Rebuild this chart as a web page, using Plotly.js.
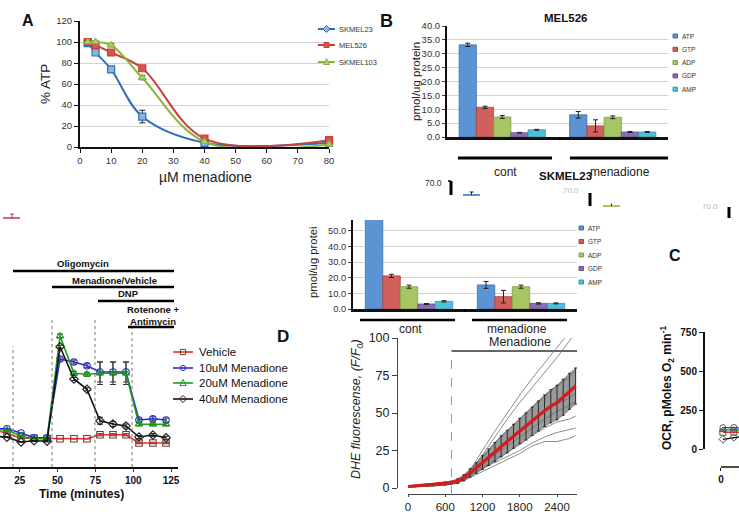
<!DOCTYPE html>
<html><head><meta charset="utf-8">
<script src="https://cdn.plot.ly/plotly-3.0.1.min.js"></script>
<style>html,body{margin:0;padding:0;background:#fff;}#chart{width:739px;height:512px;}</style>
</head><body><div id="chart"></div>
<script>
// ---------- Panel A : % ATP vs menadione ----------
const doseA = [2.5, 5, 10, 20, 40, 80];
const atpSKMEL23 = [99, 90, 74, 29, 4, 4];
const atpMEL526 = [100, 97, 90, 75, 8, 6.5];
const atpSKMEL103 = [100, 100, 97, 66, 5, 2.5];
const errSKMEL23 = [1, 1.5, 1.5, 6, 1, 0.5];
const errMEL526 = [1, 1, 1.5, 1.5, 1, 1];
const errSKMEL103 = [1, 1, 1.5, 2, 1, 0.5];
const cellLinesA = ['SKMEL23', 'MEL526', 'SKMEL103'];

// ---------- Panel B : nucleotides ----------
const nucleotides = ['ATP', 'GTP', 'ADP', 'GDP', 'AMP'];
const groups = ['cont', 'menadione'];
const mel526Cont = [33.2, 10.7, 7.2, 1.55, 2.6];
const mel526Men = [8.0, 4.0, 7.1, 1.8, 1.8];
const mel526ContErr = [0.6, 0.4, 0.5, 0.1, 0.15];
const mel526MenErr = [1.2, 2.2, 0.5, 0.2, 0.15];
const skmel23Cont = [66, 21.2, 14.3, 3.2, 4.9];
const skmel23Men = [15.4, 7.9, 14.3, 3.6, 3.6];
const skmel23ContErr = [1.5, 1.0, 1.0, 0.3, 0.4];
const skmel23MenErr = [2.2, 4.0, 1.0, 0.4, 0.3];

// ---------- Panel D : OCR time course ----------
const timeD = [8, 16.5, 25.8, 34.4, 43, 51.6, 60.8, 69.4, 78, 86.6, 95.2, 103.8, 113, 121.7];
const ocrVehicle = [148, 135, 115, 115, 113, 113, 113, 113, 129, 129, 129, 96, 96, 96];
const ocr10 = [152, 153, 136, 117, 117, 432, 420, 405, 380, 380, 380, 188, 193, 188];
const ocr20 = [150, 148, 124, 113, 113, 524, 375, 371, 375, 375, 375, 171, 171, 171];
const ocr40 = [124, 119, 100, 105, 103, 481, 352, 311, 185, 172, 164, 120, 128, 117];
const errVehicle = [0, 0, 0, 0, 0, 0, 0, 0, 4, 4, 4, 3, 3, 3];
const err10 = [0, 0, 0, 0, 0, 8, 8, 8, 40, 40, 40, 8, 8, 8];
const err20 = [0, 0, 0, 0, 0, 8, 8, 8, 45, 45, 45, 6, 6, 6];
const err40 = [0, 0, 0, 0, 0, 6, 6, 6, 14, 10, 8, 6, 6, 6];
const seriesD = ['Vehicle', '10uM Menadione', '20uM Menadione', '40uM Menadione'];
const injectionTimes = [20.5, 46.3, 74.7, 99.2];
const treatments = ['Oligomycin', 'Menadione/Vehicle', 'DNP', 'Rotenone +<br>Antimycin'];

// ---------- DHE fluorescence ----------
const dheT = [0,100,200,300,400,500,600,700,800,900,1000,1100,1200,1300,1400,1500,1600,1700,1800,1900,2000,2100,2200,2300,2400,2500,2600,2700];
const dheMean = [1.0,1.3,1.6,2.0,2.3,2.7,3.1,3.6,4.6,6.8,10.0,13.3,17.0,20.5,24.0,27.8,31.0,34.5,38.0,41.0,44.5,48.0,51.5,54.5,57.0,60.5,64.5,68.0];
const dheSD = [0.5,0.5,0.6,0.6,0.7,0.8,0.9,1.0,1.5,2.0,2.8,3.5,4.5,5.5,6.3,7.0,7.5,8.0,8.5,9.0,9.5,10.0,10.5,11.0,11.5,12.0,12.0,12.0];
const cellT = [0,300,600,700,800,900,1000,1200,1400,1600,1800,2000,2200,2400,2600,2700];
const cell1 = [1,1.5,2.5,3,4,7,12,25,38,50,62,73,83,93,104,110];
const cell2 = [1,1.5,2.5,3,4.5,7,11,22,34,46,57,67,77,87,98,104];
const cell3 = [1,1.5,2.5,3.2,5,8,11,20,30,38,46,54,61,68,74,78];
const cell4 = [1,1.2,2,3,4.2,7,10,17,25,32,39,45,51,56,60,63];
const cell5 = [1,1.2,2,2.8,4,6.5,9,15,22,28,34,40,46,51,55,58];
const cell6 = [1,1.3,2.2,3,4,6,8.5,14,19,24,29,35,40,44,46,48];
const cell7 = [1,1.2,2,3,4,6,8,13,17,21,25,30,34,37,39,40];
const cell8 = [0.5,1,1.8,2.5,3.5,5,7,11,15,19,23,28,31,31,33,35];
const menadioneStart = 700;

// ---------- Panel C : OCR (cropped) ----------
const timeC = [1.5, 10, 18.6];
const ocrC_Vehicle = [107, 108, 108];
const ocrC_10 = [137, 138, 135];
const ocrC_20 = [122, 125, 122];
const ocrC_40 = [62, 75, 82];

// ================= helpers =================
const W = 739, H = 512;
const X = p => p / W;
const Y = p => 1 - p / H;
const FONT = 'Liberation Sans, Arial, sans-serif';
const f = (size, extra) => Object.assign({family: FONT, size: size, color: '#222'}, extra || {});
function T(text, px, py, size, opts) {
  return Object.assign({text: text, xref: 'paper', yref: 'paper', x: X(px), y: Y(py), showarrow: false,
    xanchor: 'center', yanchor: 'middle', font: f(size)}, opts || {});
}
function L(x0, y0, x1, y1, color, width, dash) {
  return {type: 'line', xref: 'paper', yref: 'paper', x0: X(x0), y0: Y(y0), x1: X(x1), y1: Y(y1),
    line: {color: color, width: width, dash: dash || 'solid'}};
}
function R(x0, y0, x1, y1, fill, lc) {
  return {type: 'rect', xref: 'paper', yref: 'paper', x0: X(x0), y0: Y(y1), x1: X(x1), y1: Y(y0),
    fillcolor: fill, line: {color: lc || fill, width: 1}};
}
function P(pts, fill, lc) {
  const d = pts.map((p, i) => (i ? 'L' : 'M') + X(p[0]) + ',' + Y(p[1])).join(' ') + ' Z';
  return {type: 'path', xref: 'paper', yref: 'paper', path: d, fillcolor: fill, line: {color: lc, width: 1}};
}
function C(cx, cy, r, fill, lc) {
  return {type: 'circle', xref: 'paper', yref: 'paper', x0: X(cx - r), x1: X(cx + r), y0: Y(cy + r), y1: Y(cy - r),
    fillcolor: fill, line: {color: lc, width: 1}};
}
function marker(sym, cx, cy, s, fill, lc) {
  if (sym === 'square') return R(cx - s, cy - s, cx + s, cy + s, fill, lc);
  if (sym === 'circle') return C(cx, cy, s, fill, lc);
  if (sym === 'triangle') return P([[cx, cy - s - 1], [cx + s + 0.5, cy + s], [cx - s - 0.5, cy + s]], fill, lc);
  return P([[cx, cy - s - 1], [cx + s + 1, cy], [cx, cy + s + 1], [cx - s - 1, cy]], fill, lc);
}

const traces = [];
const shapes = [];
const annotations = [];

// ---------- Panel A traces ----------
const colA = ['#2f6fba', '#c8403a', '#8db33a'];
const fillA = ['#8fb4e0', '#d9534f', '#b5d06a'];
const symA = ['square', 'square', 'triangle-up'];
const legSymA = ['diamond', 'square', 'triangle'];
[atpSKMEL23, atpMEL526, atpSKMEL103].forEach((ys, i) => {
  traces.push({x: doseA, y: ys, xaxis: 'x', yaxis: 'y', type: 'scatter', mode: 'lines+markers', name: cellLinesA[i],
    showlegend: false, cliponaxis: false,
    line: {shape: 'spline', smoothing: 1, color: colA[i], width: 2},
    marker: {symbol: symA[i], size: 7, color: fillA[i], line: {color: colA[i], width: 1.2}},
    error_y: {type: 'data', array: [errSKMEL23, errMEL526, errSKMEL103][i], color: '#222', thickness: 1, width: 3}});
  const ly = [29, 45, 62][i];
  shapes.push(L(318, ly, 335, ly, colA[i], 2));
  shapes.push(marker(legSymA[i], 326.5, ly, 2.5, fillA[i], colA[i]));
  annotations.push(T(cellLinesA[i], 337, ly, 7.5, {xanchor: 'left', font: f(7.5, {color: '#333'})}));
});

// ---------- Panel B bars ----------
const barCol = ['#5b93d3', '#d0605b', '#a5c663', '#8b6bb5', '#4fc0d8'];
const barLine = ['#3b6fae', '#a8403c', '#7f9f45', '#6a4e92', '#3296b0'];
nucleotides.forEach((n, i) => {
  traces.push({type: 'bar', x: groups, y: [mel526Cont[i], mel526Men[i]], xaxis: 'x2', yaxis: 'y2', name: n, showlegend: false,
    marker: {color: barCol[i], line: {color: barLine[i], width: 0.8}},
    error_y: {type: 'data', array: [mel526ContErr[i], mel526MenErr[i]], color: '#222', thickness: 1, width: 2.5}});
  traces.push({type: 'bar', x: groups, y: [skmel23Cont[i], skmel23Men[i]], xaxis: 'x3', yaxis: 'y3', name: n, showlegend: false,
    marker: {color: barCol[i], line: {color: barLine[i], width: 0.8}},
    error_y: {type: 'data', array: [skmel23ContErr[i], skmel23MenErr[i]], color: '#222', thickness: 1, width: 2.5}});
  const ly2 = 36 + 13.3 * i;
  shapes.push(R(673, ly2 - 2, 677.5, ly2 + 2, barCol[i], barLine[i]));
  annotations.push(T(n, 680, ly2, 6.5, {xanchor: 'left', font: f(6.5, {color: '#333'})}));
  const ly3 = 228 + 13.5 * i;
  shapes.push(R(579, ly3 - 2, 583.5, ly3 + 2, barCol[i], barLine[i]));
  annotations.push(T(n, 586, ly3, 6.5, {xanchor: 'left', font: f(6.5, {color: '#333'})}));
});

// ---------- Panel D traces ----------
const colD = ['#e8302a', '#2b2bd0', '#1a9e1a', '#111111'];
const mkD = ['#7a3a3a', '#2b2bd0', '#1a9e1a', '#222'];
const symD = ['square-open', 'circle-open', 'triangle-up-open', 'diamond-open'];
const legSymD = ['square', 'circle', 'triangle', 'diamond'];
[ocrVehicle, ocr10, ocr20, ocr40].forEach((ys, i) => {
  traces.push({x: timeD, y: ys, xaxis: 'x4', yaxis: 'y4', type: 'scatter', mode: 'lines+markers', name: seriesD[i],
    showlegend: false, line: {color: colD[i], width: 1.6},
    marker: {symbol: symD[i], size: 6.5, color: mkD[i], line: {width: 1.1}},
    error_y: {type: 'data', array: [errVehicle, err10, err20, err40][i], color: '#333', thickness: 1, width: 3}});
  const ly = [352, 368, 383, 399][i];
  shapes.push(L(173, ly, 193, ly, colD[i], 1.6));
  shapes.push(marker(legSymD[i], 183, ly, 2.6, 'rgba(255,255,255,0)', mkD[i]));
  annotations.push(T(seriesD[i], 197, ly, 11.5, {xanchor: 'left', font: f(11.5, {color: '#111'})}));
});
// injection dotted lines
injectionTimes.forEach((t, i) => {
  shapes.push({type: 'line', xref: 'x4', yref: 'paper', x0: t, x1: t, y0: Y(467), y1: Y(i === 0 ? 346 : 318),
    line: {color: '#777', width: 1, dash: 'dot'}});
});
// treatment bars
const trLines = [[13, 174, 271, 83, 263], [52, 174, 287, 114, 280], [98, 174, 301, 128, 293], [128, 174, 327, 153, 315]];
trLines.forEach((t, i) => {
  shapes.push(L(t[0], t[2], t[1], t[2], '#000', 2.5));
  annotations.push(T('<b>' + treatments[i] + '</b>', t[3], t[4], 9.5, {font: f(9.5, {color: '#111'})}));
});

// ---------- DHE traces ----------
const dheLo = dheMean.map((m, i) => m - dheSD[i]);
const dheHi = dheMean.map((m, i) => m + dheSD[i]);
traces.push({x: dheT, y: dheLo, xaxis: 'x5', yaxis: 'y5', type: 'scatter', mode: 'lines', line: {width: 0.5, color: '#555'}, showlegend: false, hoverinfo: 'skip'});
traces.push({x: dheT, y: dheHi, xaxis: 'x5', yaxis: 'y5', type: 'scatter', mode: 'lines', line: {width: 0.5, color: '#555'}, fill: 'tonexty', fillcolor: '#9a9a9a', showlegend: false, hoverinfo: 'skip'});
[cell1, cell2, cell3, cell4, cell5, cell6, cell7, cell8].forEach((ys) => {
  traces.push({x: cellT, y: ys, xaxis: 'x5', yaxis: 'y5', type: 'scatter', mode: 'lines', line: {width: 0.8, color: '#707070'}, showlegend: false});
});
traces.push({x: dheT, y: dheMean, xaxis: 'x5', yaxis: 'y5', type: 'scatter', mode: 'lines', showlegend: false,
  line: {color: '#d41c1c', width: 3.2},
  error_y: {type: 'data', array: dheSD, color: '#2a2a2a', thickness: 1, width: 1.5}});
shapes.push({type: 'line', xref: 'x5', yref: 'paper', x0: menadioneStart, x1: menadioneStart, y0: Y(495), y1: Y(351), line: {color: '#999', width: 1, dash: 'dash'}});
shapes.push({type: 'line', xref: 'x5', yref: 'paper', x0: menadioneStart, x1: 2722, y0: Y(351), y1: Y(351), line: {color: '#666', width: 2}});

// ---------- Panel C traces ----------
[ocrC_Vehicle, ocrC_10, ocrC_20, ocrC_40].forEach((ys, i) => {
  traces.push({x: timeC, y: ys, xaxis: 'x6', yaxis: 'y6', type: 'scatter', mode: 'lines+markers', showlegend: false,
    line: {color: colD[i], width: 1.4}, marker: {symbol: symD[i], size: 6, color: '#555', line: {width: 1}}});
});
shapes.push(L(721, 467, 739, 467, '#111', 1.5));

// ---------- brackets & fragments ----------
shapes.push(L(458, 158, 552, 158, '#000', 3));
shapes.push(L(570, 158, 668, 158, '#000', 3));
shapes.push(L(560, 137, 560, 140, '#000', 1.5));
shapes.push(L(360, 320, 455, 320, '#000', 2.5));
shapes.push(L(472, 320, 567, 320, '#000', 2.5));
shapes.push(L(465, 309, 465, 312, '#000', 1.5));
// cropped copies
shapes.push(L(451, 181, 451, 195, '#000', 3));
shapes.push(L(448, 181, 451, 181, '#000', 1.5));
shapes.push(L(463, 195, 480, 195, '#5b93d3', 2));
shapes.push(L(471.5, 192, 471.5, 195, '#222', 1));
shapes.push(L(469.5, 192, 473.5, 192, '#222', 1));
shapes.push(L(590, 193, 590, 206, '#000', 3));
shapes.push(L(603, 206, 620, 206, '#a5c663', 2));
shapes.push(L(611.5, 203.5, 611.5, 206, '#222', 1));
shapes.push(L(729, 207, 729, 218, '#000', 3));
shapes.push(L(3, 218, 20, 218, '#c0306a', 1.5));
shapes.push(L(12, 214, 12, 218, '#c0306a', 1));
shapes.push(L(10, 214, 14, 214, '#c0306a', 1));

// ---------- text annotations ----------
annotations.push(T('<b>A</b>', 28, 20, 16, {font: f(16, {color: '#111'})}));
annotations.push(T('% ATP', 45, 84, 13, {textangle: -90, font: f(13.5, {color: '#222'})}));
annotations.push(T('µM menadione', 205, 177, 14, {font: f(14, {color: '#222'})}));
annotations.push(T('<b>B</b>', 386, 21, 18, {font: f(18, {color: '#111'})}));
annotations.push(T('<b>MEL526</b>', 565, 18, 11.5, {font: f(11.5, {color: '#111'})}));
annotations.push(T('pmol/ug protein', 416, 82, 11.5, {textangle: -90, font: f(11.5, {color: '#222'})}));
annotations.push(T(groups[0], 505, 172, 12));
annotations.push(T(groups[1], 620, 172, 12));
annotations.push(T('<b>SKMEL23</b>', 565, 176, 11.5, {font: f(11.5, {color: '#111'})}));
annotations.push(T('70.0', 433, 183, 8.5, {font: f(8.5, {color: '#333'})}));
annotations.push(T('70.0', 571, 190, 8, {font: f(8, {color: '#bbb'})}));
annotations.push(T('70.0', 710, 206, 8, {font: f(8, {color: '#bbb'})}));
annotations.push(T('pmol/ug protei', 313, 262, 11.3, {textangle: -90, font: f(11.3, {color: '#222'})}));
annotations.push(T(groups[0], 410, 329, 12));
annotations.push(T(groups[1], 517, 329, 12));
annotations.push(T('Menadione', 520, 342, 12.5, {font: f(12.5, {color: '#222'})}));
annotations.push(T('<b>Time (minutes)</b>', 81, 494, 12, {font: f(12, {color: '#111'})}));
annotations.push(T('<b>D</b>', 283, 336, 17, {font: f(17, {color: '#111'})}));
annotations.push(T('<i>DHE fluorescense, (F/F<sub>0</sub>)</i>', 357, 409, 12.5, {textangle: -90, font: f(12.5, {color: '#222'})}));
annotations.push(T('<b>C</b>', 675, 255, 16, {font: f(16, {color: '#111'})}));
annotations.push(T('<b>OCR, pMoles O<sub>2</sub> min<sup>-1</sup></b>', 667, 388, 12, {textangle: -90, font: f(12, {color: '#111'})}));

const baseAxis = {showgrid: false, zeroline: false, showline: true, linecolor: '#111', ticks: 'outside', fixedrange: true};
const layout = {
  width: W, height: H, margin: {l: 0, r: 0, t: 0, b: 0}, paper_bgcolor: '#fff', plot_bgcolor: 'rgba(0,0,0,0)',
  showlegend: false, barmode: 'group', bargap: 0.22, bargroupgap: 0,
  font: {family: FONT, color: '#222'},
  xaxis: Object.assign({}, baseAxis, {domain: [X(80), X(329)], range: [0, 80], dtick: 10, anchor: 'y', linewidth: 2, ticklen: 4, tickcolor: '#111', tickfont: f(9.5, {color: '#333'})}),
  yaxis: Object.assign({}, baseAxis, {domain: [Y(147), Y(21)], range: [0, 120], dtick: 20, anchor: 'x', linewidth: 2, ticklen: 4, tickcolor: '#111', showgrid: true, gridcolor: '#d4d4d4', tickfont: f(9.5, {color: '#333'})}),
  xaxis2: Object.assign({}, baseAxis, {domain: [X(447), X(668)], type: 'category', anchor: 'y2', linewidth: 2.5, ticks: '', showticklabels: false}),
  yaxis2: Object.assign({}, baseAxis, {domain: [Y(137), Y(26)], range: [0, 40], dtick: 5, tickformat: '.1f', anchor: 'x2', linewidth: 2, ticklen: 3, showgrid: true, gridcolor: '#d4d4d4', tickfont: f(9.5, {color: '#333'})}),
  xaxis3: Object.assign({}, baseAxis, {domain: [X(353), X(577)], type: 'category', anchor: 'y3', linewidth: 2.5, ticks: '', showticklabels: false}),
  yaxis3: Object.assign({}, baseAxis, {domain: [Y(309), Y(220)], range: [0, 57], dtick: 10, tickformat: '.1f', anchor: 'x3', linewidth: 2, ticklen: 3, showgrid: true, gridcolor: '#d4d4d4', tickfont: f(9.3, {color: '#333'})}),
  xaxis4: Object.assign({}, baseAxis, {domain: [0, X(178)], range: [11.9, 129.6], tickvals: [25, 50, 75, 100, 125], anchor: 'y4', linewidth: 1.5, ticklen: 3, tickfont: f(10, {color: '#111', weight: 'bold'})}),
  yaxis4: {domain: [Y(467), Y(317)], range: [0, 600], anchor: 'x4', visible: false, fixedrange: true},
  xaxis5: Object.assign({}, baseAxis, {domain: [X(408), X(577)], range: [0, 2722], tickvals: [0, 600, 1200, 1800, 2400], anchor: 'free', position: Y(494), linewidth: 1, linecolor: '#444', tickcolor: '#444', ticklen: 2, tickfont: f(11.5, {color: '#222'})}),
  yaxis5: Object.assign({}, baseAxis, {domain: [Y(488), Y(338)], range: [0, 100], tickvals: [0, 25, 50, 75, 100], anchor: 'free', position: X(397), linewidth: 1, linecolor: '#444', tickcolor: '#444', ticklen: 5, tickfont: f(12.5, {color: '#222'})}),
  xaxis6: Object.assign({}, baseAxis, {domain: [X(705), 1], range: [-12.4, 14], tickvals: [0], anchor: 'free', position: Y(467), showline: false, ticklen: 3, tickcolor: '#111', tickfont: f(10, {color: '#111', weight: 'bold'})}),
  yaxis6: Object.assign({}, baseAxis, {domain: [Y(449), Y(332)], range: [0, 750], tickvals: [0, 250, 500, 750], anchor: 'free', position: X(703), linewidth: 1.5, ticklen: 4, tickcolor: '#111', tickfont: f(10, {color: '#111', weight: 'bold'})}),
  shapes: shapes,
  annotations: annotations
};
Plotly.newPlot('chart', traces, layout, {staticPlot: true, displayModeBar: false});
</script>
</body></html>
